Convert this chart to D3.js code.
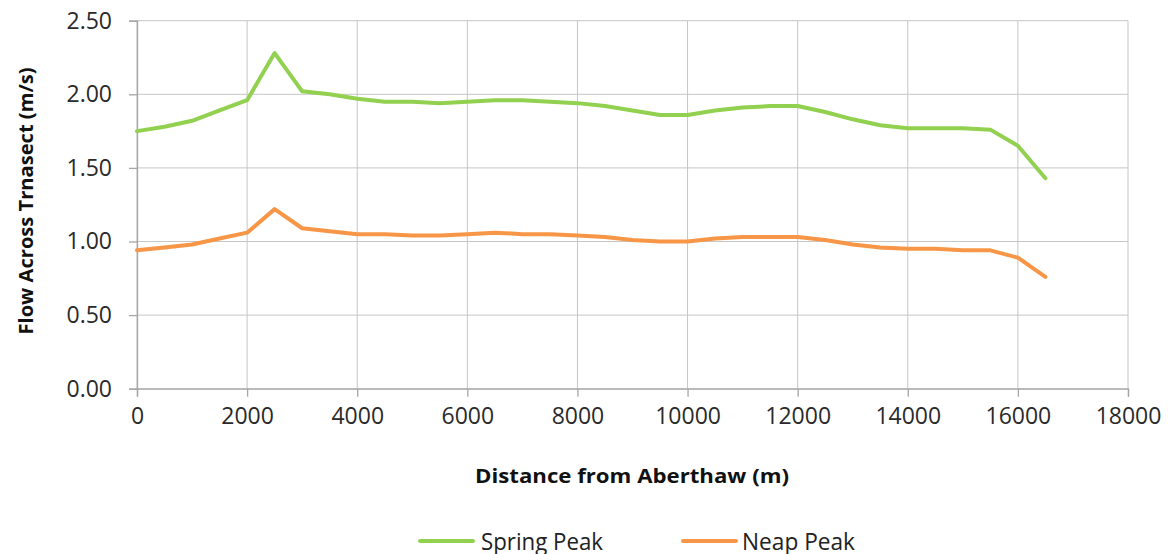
<!DOCTYPE html>
<html><head><meta charset="utf-8">
<script src="https://cdn.jsdelivr.net/npm/d3@7/dist/d3.min.js"></script>
<style>body{margin:0;background:#fff;} svg{display:block;}</style>
</head><body>
<script>
const distances = d3.range(0, 16501, 500);
const springPeak = [1.75,1.78,1.82,1.89,1.96,2.28,2.02,2.00,1.97,1.95,1.95,1.94,1.95,1.96,1.96,1.95,1.94,1.92,1.89,1.86,1.86,1.89,1.91,1.92,1.92,1.88,1.83,1.79,1.77,1.77,1.77,1.76,1.65,1.43];
const neapPeak = [0.94,0.96,0.98,1.02,1.06,1.22,1.09,1.07,1.05,1.05,1.04,1.04,1.05,1.06,1.05,1.05,1.04,1.03,1.01,1.00,1.00,1.02,1.03,1.03,1.03,1.01,0.98,0.96,0.95,0.95,0.94,0.94,0.89,0.76];
const xTicks = [0,2000,4000,6000,8000,10000,12000,14000,16000,18000];
const yTicks = [0,0.5,1,1.5,2,2.5];
const seriesNames = ["Spring Peak","Neap Peak"];
const colors = ["#92D050","#F79646"];

const W=1168,H=554;
const svg=d3.select("body").append("svg").attr("width",W).attr("height",H);
const x=d3.scaleLinear().domain([0,18000]).range([137,1128]);
const y=d3.scaleLinear().domain([0,2.5]).range([388.7,20.7]);
const font="'Open Sans', 'DejaVu Sans', sans-serif";

// gridlines
svg.append("g").selectAll("line").data(yTicks).join("line")
  .attr("x1",x(0)).attr("x2",x(18000)).attr("y1",d=>y(d)).attr("y2",d=>y(d))
  .attr("stroke","#c6c6c6").attr("stroke-width",1);
svg.append("g").selectAll("line").data(xTicks).join("line")
  .attr("x1",d=>x(d)).attr("x2",d=>x(d)).attr("y1",y(0)).attr("y2",y(2.5))
  .attr("stroke","#c6c6c6").attr("stroke-width",1);

// axes
const xAxis=svg.append("g").attr("transform",`translate(0,${y(0)})`)
  .call(d3.axisBottom(x).tickValues(xTicks).tickFormat(d3.format("d")).tickSize(8).tickPadding(11));
const yAxis=svg.append("g").attr("transform",`translate(${x(0)},0)`)
  .call(d3.axisLeft(y).tickValues(yTicks).tickFormat(d3.format(".2f")).tickSize(8).tickPadding(17));
[xAxis,yAxis].forEach(g=>{
  g.selectAll("path,line").attr("stroke","#a6a6a6").attr("stroke-width",1.3);
  g.selectAll("text").attr("font-family",font).attr("font-size",23).attr("fill","#2a2a2a");
});

// lines
const line=d3.line().x((d,i)=>x(distances[i])).y(d=>y(d));
[springPeak,neapPeak].forEach((s,k)=>{
  svg.append("path").datum(s).attr("d",line).attr("fill","none")
    .attr("stroke",colors[k]).attr("stroke-width",4).attr("stroke-linejoin","round").attr("stroke-linecap","round");
});

// axis titles
svg.append("text").attr("x",632).attr("y",483).attr("text-anchor","middle")
  .attr("font-family",font).attr("font-weight","bold").attr("font-size",20).attr("fill","#111")
  .attr("textLength",314).attr("lengthAdjust","spacingAndGlyphs")
  .text("Distance from Aberthaw (m)");
svg.append("text").attr("transform","translate(33,201) rotate(-90)").attr("text-anchor","middle")
  .attr("font-family",font).attr("font-weight","bold").attr("font-size",20).attr("fill","#111")
  .attr("textLength",267).attr("lengthAdjust","spacingAndGlyphs")
  .text("Flow Across Trnasect (m/s)");

// legend
const leg=[{x:420,tx:481,w:122},{x:683,tx:742,w:113}];
seriesNames.forEach((n,k)=>{
  svg.append("line").attr("x1",leg[k].x).attr("x2",leg[k].x+53).attr("y1",541).attr("y2",541)
    .attr("stroke",colors[k]).attr("stroke-width",4).attr("stroke-linecap","round");
  svg.append("text").attr("x",leg[k].tx).attr("y",550).attr("font-family",font).attr("font-size",23).attr("fill","#222")
    .attr("textLength",leg[k].w).attr("lengthAdjust","spacingAndGlyphs").text(n);
});
</script>
</body></html>
